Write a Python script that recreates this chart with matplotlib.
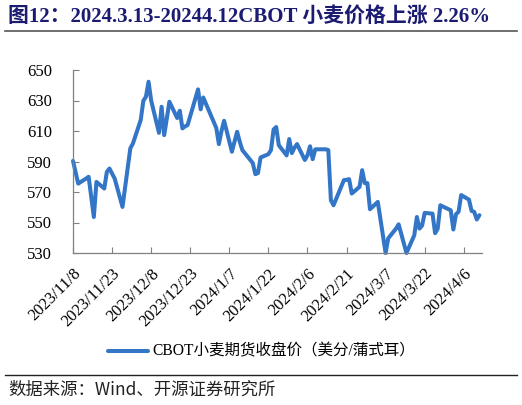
import matplotlib
matplotlib.use("Agg")
import matplotlib.pyplot as plt
import numpy as np
import pandas as pd

dates = [
    "2023-11-08", "2023-11-10", "2023-11-13", "2023-11-14", "2023-11-16", "2023-11-17",
    "2023-11-20", "2023-11-21", "2023-11-22", "2023-11-24", "2023-11-27", "2023-11-30",
    "2023-12-01", "2023-12-04", "2023-12-05", "2023-12-06", "2023-12-07", "2023-12-08",
    "2023-12-11", "2023-12-12", "2023-12-13", "2023-12-14", "2023-12-15", "2023-12-18",
    "2023-12-19", "2023-12-20", "2023-12-21", "2023-12-22", "2023-12-26", "2023-12-27",
    "2023-12-28", "2023-12-29", "2024-01-02", "2024-01-03", "2024-01-04", "2024-01-05",
    "2024-01-08", "2024-01-09", "2024-01-10", "2024-01-11", "2024-01-12", "2024-01-16",
    "2024-01-17", "2024-01-18", "2024-01-19", "2024-01-22", "2024-01-23", "2024-01-24",
    "2024-01-25", "2024-01-26", "2024-01-29", "2024-01-30", "2024-01-31", "2024-02-01",
    "2024-02-02", "2024-02-05", "2024-02-06", "2024-02-07", "2024-02-08", "2024-02-09",
    "2024-02-12", "2024-02-13", "2024-02-14", "2024-02-15", "2024-02-16", "2024-02-20",
    "2024-02-21", "2024-02-22", "2024-02-23", "2024-02-26", "2024-02-27", "2024-02-28",
    "2024-02-29", "2024-03-01", "2024-03-04", "2024-03-07", "2024-03-08", "2024-03-11",
    "2024-03-12", "2024-03-15", "2024-03-18", "2024-03-19", "2024-03-20", "2024-03-21",
    "2024-03-22", "2024-03-25", "2024-03-26", "2024-03-27", "2024-03-28", "2024-04-01",
    "2024-04-02", "2024-04-03", "2024-04-04", "2024-04-05", "2024-04-08", "2024-04-09",
    "2024-04-10", "2024-04-11", "2024-04-12",
]
prices = [
    590.4, 575.5, 578.8, 580.0, 553.6, 576.6,
    572.3, 583.2, 585.4, 578.8, 560.2, 598.6,
    601.8, 617.2, 629.8, 632.5, 642.3, 630.0,
    608.8, 625.9, 607.3, 618.0, 629.2, 618.5,
    623.3, 611.7, 613.0, 613.9, 637.3, 624.2,
    632.0, 628.0, 612.0, 601.4, 610.0, 616.7,
    596.4, 603.0, 609.5, 603.0, 597.5, 589.0,
    581.7, 582.4, 592.6, 594.8, 597.5, 611.0,
    612.6, 600.7, 594.0, 604.7, 595.5, 599.0,
    601.4, 591.0, 594.0, 600.0, 591.5, 598.0,
    598.0, 598.0, 597.5, 564.6, 561.3, 577.8,
    578.0, 578.4, 569.0, 573.4, 584.3, 575.8,
    575.8, 558.7, 563.5, 530.0, 539.6, 546.0,
    548.8, 530.0, 541.6, 553.6, 546.0, 548.0,
    556.3, 555.8, 543.0, 546.0, 561.3, 558.0,
    545.4, 555.4, 557.0, 568.0, 565.0, 557.6,
    557.0, 552.0, 554.8,
]
tick_dates = ["2023-11-08", "2023-11-23", "2023-12-08", "2023-12-23", "2024-01-07",
              "2024-01-22", "2024-02-06", "2024-02-21", "2024-03-07", "2024-03-22", "2024-04-06"]
tick_labels = ["2023/11/8", "2023/11/23", "2023/12/8", "2023/12/23", "2024/1/7",
               "2024/1/22", "2024/2/6", "2024/2/21", "2024/3/7", "2024/3/22", "2024/4/6"]
y_ticks = [530, 550, 570, 590, 610, 630, 650]
series_name = "CBOT小麦期货收盘价（美分/蒲式耳）"
title = "图12：2024.3.13-20244.12CBOT 小麦价格上涨 2.26%"
source = "数据来源：Wind、开源证券研究所"

serif = ["Liberation Serif", "Noto Sans CJK SC"]
cjk = ["Noto Sans CJK SC", "Liberation Serif"]

W, H = 522, 405
fig = plt.figure(figsize=(W / 100, H / 100), dpi=100)

x0, x1 = 73, 482
y0, y1 = 70, 253
ax = fig.add_axes([x0 / W, 1 - y1 / H, (x1 - x0) / W, (y1 - y0) / H])

d = pd.to_datetime(dates)
ax.plot(d, prices, color="#3375C6", lw=2.9, solid_joinstyle="round", solid_capstyle="round", clip_on=False)

start = pd.Timestamp("2023-11-08")
ax.set_xlim(start, start + pd.Timedelta(days=157))
ax.set_ylim(530, 650)
ax.set_yticks(y_ticks)
ax.set_yticklabels([str(v) for v in y_ticks], family=serif, fontsize=12)
ax.set_xticks(pd.to_datetime(tick_dates))
ax.set_xticklabels(tick_labels, family=serif, fontsize=12, rotation=45,
                   ha="right", va="top", rotation_mode="anchor")
ax.tick_params(axis="x", direction="in", length=4, width=0.8, color="#808080", pad=9)
ax.tick_params(axis="y", direction="in", length=4, width=0.8, color="#808080", pad=15)
for s in ["top", "right"]:
    ax.spines[s].set_visible(False)
for s in ["left", "bottom"]:
    ax.spines[s].set_color("#808080")
    ax.spines[s].set_linewidth(0.9)
ax.set_facecolor("none")

# title
fig.text(8 / W, 1 - 17 / H, title, family=serif, fontsize=15, fontweight="bold",
         color="#1B1B72", va="center", ha="left")
fig.add_artist(plt.Line2D([5 / W, 517 / W], [1 - 31 / H, 1 - 31 / H], color="#555555", lw=1.2))

# legend
fig.add_artist(plt.Line2D([108 / W, 148 / W], [1 - 351 / H, 1 - 351 / H], color="#3375C6", lw=2.9,
                          solid_capstyle="round"))
fig.text(152 / W, 1 - 351 / H, series_name, family=serif, fontsize=11.2, color="#000000",
         va="center", ha="left")

fig.add_artist(plt.Line2D([5 / W, 517 / W], [1 - 375 / H, 1 - 375 / H], color="#222222", lw=1.0))
fig.text(8 / W, 1 - 390 / H, source, family=cjk, fontsize=12.5, color="#222222",
         va="center", ha="left")

fig.savefig("out.png", dpi=100)
